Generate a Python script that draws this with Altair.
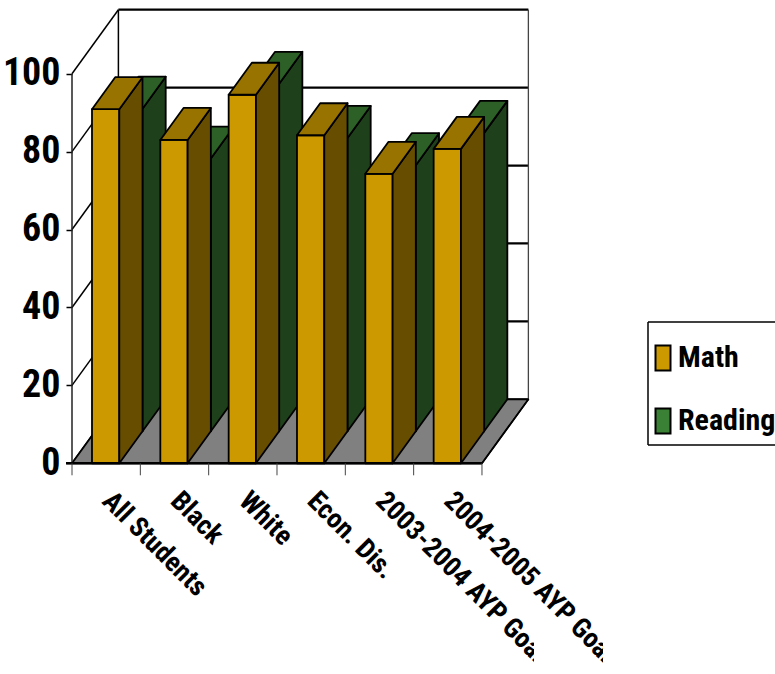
import json

import altair as alt
import pandas as pd

# Values read per category and per series
categories = ["All Students", "Black", "White", "Econ. Dis.",
              "2003-2004 AYP Goal", "2004-2005 AYP Goal"]
series_names = ["Math", "Reading"]
math_values = [90.9, 83, 94.6, 84.2, 74.3, 80.7]
reading_values = [82.8, 70, 89.2, 75.3, 68.3, 76.6]
y_ticks = [0, 20, 40, 60, 80, 100]

FONT = "Roboto Condensed, Liberation Sans, sans-serif"

# Plot box in pixels and the data scales that follow from it
PLOT_W, PLOT_H = 456, 453.3
PX_PER_CAT, PX_PER_UNIT = 68.33, 3.896
X_MAX = PLOT_W / PX_PER_CAT
Y_MAX = PLOT_H / PX_PER_UNIT

# Oblique projection: one full step back in depth, in data units
DEPTH_X = 46.4 / PX_PER_CAT
DEPTH_Y = 64 / PX_PER_UNIT
BAR_START = 20 / PX_PER_CAT
BAR_W = 27.3 / PX_PER_CAT

COLORS = {
    "Math": {"front": "#CC9900", "top": "#997300", "side": "#664D00"},
    "Reading": {"front": "#3A8035", "top": "#2C6026", "side": "#1E401A"},
}


def add_shape(rows, name, fill, points):
    """points are (x, y_upper, y_lower) in data units, left to right."""
    for x, y, y2 in points:
        rows.append({"shape": name, "fill": fill, "x": x, "y": y, "y2": y2})


def add_bar(rows, name, left, value, depth, colors):
    dx = DEPTH_X * depth
    dy = DEPTH_Y * depth
    half_x = DEPTH_X / 2
    half_y = DEPTH_Y / 2
    x0 = left + dx
    x1 = x0 + BAR_W
    base = dy
    top = value + dy
    add_shape(rows, name + " front", colors["front"],
              [(x0, top, base), (x1, top, base)])
    add_shape(rows, name + " side", colors["side"],
              [(x1, top, base), (x1 + half_x, top + half_y, base + half_y)])
    add_shape(rows, name + " top", colors["top"],
              [(x0, top, top),
               (x0 + half_x, top + half_y, top),
               (x1, top + half_y, top),
               (x1 + half_x, top + half_y, top + half_y)])


n = len(categories)

# Floor first, then bars from left to right with the back row behind the front row
shapes = []
add_shape(shapes, "floor", "#808080",
          [(0, 0, 0),
           (DEPTH_X, DEPTH_Y, 0),
           (n, DEPTH_Y, 0),
           (n + DEPTH_X, DEPTH_Y, DEPTH_Y)])
for i in range(n):
    left = i + BAR_START
    add_bar(shapes, f"r{i}", left, reading_values[i], 0.5, COLORS["Reading"])
    add_bar(shapes, f"m{i}", left, math_values[i], 0.0, COLORS["Math"])
shapes_df = pd.DataFrame(shapes)


def seg(x, y, x2, y2, width=1.0, color="#000000"):
    return {"x": x, "y": y, "x2": x2, "y2": y2, "w": width, "c": color}


# Wall grid and frame, drawn behind the bars
back_lines = []
for t in y_ticks:
    back_lines.append(seg(0, t, DEPTH_X, t + DEPTH_Y, 1.5))
    back_lines.append(seg(DEPTH_X, t + DEPTH_Y, n + DEPTH_X, t + DEPTH_Y, 2.2))
back_lines.append(seg(DEPTH_X, DEPTH_Y, DEPTH_X, y_ticks[-1] + DEPTH_Y, 1.5))
back_lines.append(seg(n + DEPTH_X, DEPTH_Y, n + DEPTH_X, y_ticks[-1] + DEPTH_Y, 1.3, "#444444"))

# Axis lines and category ticks, drawn over the bars
front_lines = [seg(0, 0, 0, y_ticks[-1], 1.5, "#222222"),
               seg(-6 / PX_PER_CAT, 0, n, 0, 2.5)]
for i in range(n + 1):
    front_lines.append(seg(i, 0, i, -12 / PX_PER_UNIT, 1, "#444444"))
front_lines.append(seg(n, 0, n + DEPTH_X, DEPTH_Y, 1.3))

# Open-ended legend frame: it runs off the right edge of the page
BOX_L, BOX_R = 576 / PX_PER_CAT, 720 / PX_PER_CAT
BOX_T, BOX_B = (463.3 - 322) / PX_PER_UNIT, (463.3 - 445) / PX_PER_UNIT
front_lines += [seg(BOX_L, BOX_T, BOX_R, BOX_T, 1.5),
                seg(BOX_L, BOX_B, BOX_R, BOX_B, 1.5),
                seg(BOX_L, BOX_B, BOX_L, BOX_T, 1.5)]

x_scale = alt.Scale(domain=[0, X_MAX], nice=False, zero=False)
y_scale = alt.Scale(domain=[0, Y_MAX], nice=False, zero=False)
x_axis = alt.Axis(
    values=[i + 0.5 for i in range(n)],
    labelExpr=f"{json.dumps(categories)}[floor(datum.value)]",
    labelAngle=45, labelAlign="left", labelBaseline="middle",
    labelFont=FONT, labelFontWeight="bold", labelFontSize=27.5, labelColor="#000000",
    labelPadding=33, labelOverlap=False, labelBound=False, labelFlush=False,
    labelLimit=400, ticks=False, domain=False, grid=False, title=None,
)
y_axis = alt.Axis(
    values=y_ticks, labelFont=FONT, labelFontWeight="bold", labelFontSize=38,
    labelColor="#000000", labelPadding=6, tickSize=6, tickColor="#000000",
    tickWidth=1.5, domain=False, grid=False, title=None,
)
X_ENC = alt.X("x:Q", scale=x_scale, axis=x_axis)
Y_ENC = alt.Y("y:Q", scale=y_scale, axis=y_axis)


def line_layer(rows):
    return alt.Chart(pd.DataFrame(rows)).mark_rule().encode(
        x=X_ENC,
        y=Y_ENC,
        x2="x2:Q",
        y2="y2:Q",
        stroke=alt.Stroke("c:N", scale=None),
        strokeWidth=alt.StrokeWidth("w:Q", scale=None),
    )


faces = alt.Chart(shapes_df).mark_area(
    stroke="#000000", strokeWidth=1.8, strokeJoin="round", opacity=1
).encode(
    x=X_ENC,
    y=Y_ENC,
    y2="y2:Q",
    detail="shape:N",
    fill=alt.Fill("fill:N", scale=None),
)

# Rotated labels stop at a fixed run length from their start
masks = pd.DataFrame({
    "x": [462 / PX_PER_CAT, 531 / PX_PER_CAT],
    "x2": [482 / PX_PER_CAT, 551 / PX_PER_CAT],
    "y": [-165 / PX_PER_UNIT] * 2,
    "y2": [-212 / PX_PER_UNIT] * 2,
})
label_masks = alt.Chart(masks).mark_rect(color="#FFFFFF").encode(
    x=X_ENC,
    x2="x2:Q",
    y=Y_ENC,
    y2="y2:Q",
)

legend_layer = alt.Chart(pd.DataFrame({"series": series_names})).mark_point(
    filled=True, size=0
).encode(
    x=alt.value(0),
    y=alt.value(0),
    color=alt.Color(
        "series:N",
        scale=alt.Scale(domain=series_names,
                        range=[COLORS["Math"]["front"], COLORS["Reading"]["front"]]),
        legend=alt.Legend(
            title=None, orient="none", legendX=576, legendY=333,
            symbolType="M-0.6,-1H0.6V1H-0.6Z", symbolSize=625,
            symbolStrokeColor="#000000", symbolStrokeWidth=2, symbolOpacity=1,
            labelFont=FONT, labelFontWeight="bold", labelFontSize=30,
            labelColor="#000000", labelOffset=0, labelLimit=300,
            rowPadding=29, padding=0,
        ),
    ),
)

chart = alt.layer(
    line_layer(back_lines), faces, line_layer(front_lines), label_masks, legend_layer
).properties(
    width=PLOT_W,
    height=PLOT_H,
    background="#FFFFFF",
    padding={"left": 72, "top": 10, "right": 247, "bottom": 210.7},
    autosize=alt.AutoSizeParams(type="none"),
).configure_view(stroke=None)

chart.save("out.html", embed_options={"renderer": "svg", "actions": False})
